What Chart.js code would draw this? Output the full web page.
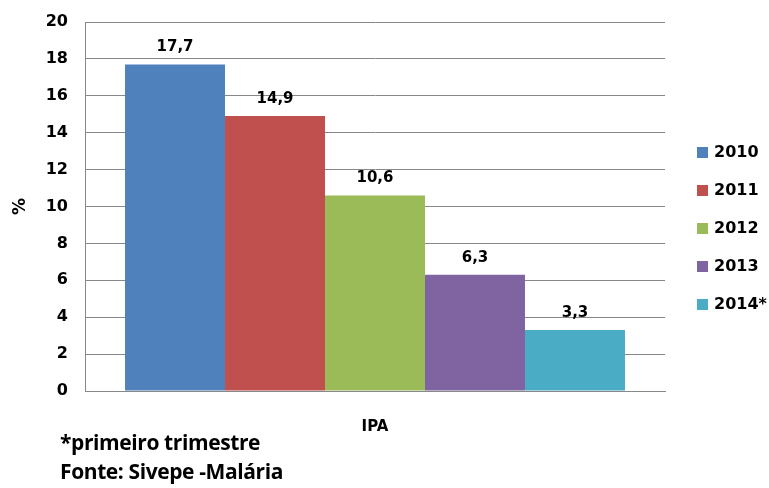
<!DOCTYPE html>
<html>
<head>
<meta charset="utf-8">
<script src="https://cdn.jsdelivr.net/npm/chart.js@4.4.0/dist/chart.umd.min.js"></script>
<style>
  html, body { margin: 0; padding: 0; background: #fff; }
  #wrap { position: relative; width: 769px; height: 488px; }
  #nota {
    position: absolute; left: 60px; top: 428px;
    font-family: "Open Sans", sans-serif; font-weight: bold;
    font-size: 21px; line-height: 29px; color: #000; letter-spacing: -0.4px;
  }
</style>
</head>
<body>
<div id="wrap">
  <canvas id="grafico" width="769" height="488"></canvas>
  <div id="nota">*primeiro trimestre<br>Fonte: Sivepe -Malária</div>
</div>
<script>
// categoria unica e series por ano
let categorias = ["IPA"];
let anos = ["2010", "2011", "2012", "2013", "2014*"];
let valores = [17.7, 14.9, 10.6, 6.3, 3.3];
let cores = ["#4F81BD", "#C0504D", "#9BBB59", "#8064A2", "#4BACC6"];
let ticksY = [0, 2, 4, 6, 8, 10, 12, 14, 16, 18, 20];

let fonte = "'DejaVu Sans', sans-serif";

let datasets = anos.map(function (ano, i) {
    return {
        label: ano,
        data: [valores[i]],
        backgroundColor: cores[i],
        borderWidth: 0,
        categoryPercentage: 0.862,
        barPercentage: 1.0,
    };
});

// escreve o valor em cima de cada barra (virgula decimal)
let rotulos = {
    id: "rotulos",
    afterDatasetsDraw(chart) {
        let ctx = chart.ctx;
        ctx.save();
        ctx.font = "bold 15px " + fonte;
        ctx.fillStyle = "#000";
        ctx.textAlign = "center";
        ctx.textBaseline = "alphabetic";
        chart.data.datasets.forEach(function (ds, i) {
            let meta = chart.getDatasetMeta(i);
            meta.data.forEach(function (bar, j) {
                let txt = ds.data[j].toFixed(1).replace(".", ",");
                ctx.fillText(txt, bar.x, bar.y - 13);
            });
        });
        ctx.restore();
    },
};

// legenda a direita, um quadrado e o ano por linha
let legenda = {
    id: "legenda",
    afterDraw(chart) {
        let ctx = chart.ctx;
        let x = chart.chartArea.right + 32;
        let y0 = 153;
        ctx.save();
        ctx.font = "bold 16px " + fonte;
        ctx.textAlign = "left";
        ctx.textBaseline = "middle";
        chart.data.datasets.forEach(function (ds, i) {
            let y = y0 + i * 38;
            ctx.fillStyle = ds.backgroundColor;
            ctx.fillRect(x, y - 6, 11, 11);
            ctx.fillStyle = "#000";
            ctx.fillText(ds.label, x + 17, y);
        });
        ctx.restore();
    },
};

let grafico = new Chart(document.getElementById("grafico"), {
    type: "bar",
    data: { labels: categorias, datasets: datasets },
    plugins: [rotulos, legenda],
    options: {
        responsive: false,
        animation: false,
        layout: { padding: { top: 22, bottom: 53, left: 0, right: 104 } },
        plugins: {
            tooltip: { enabled: false },
            legend: { display: false },
        },
        scales: {
            x: {
                afterFit(scale) { scale.height = 44; },
                grid: { display: false, drawTicks: false },
                border: { color: "#888888" },
                ticks: { color: "#000", padding: 27, font: { family: fonte, weight: "bold", size: 15 } },
            },
            y: {
                min: 0,
                max: 20,
                afterFit(scale) {
                    scale.width = 85;
                    scale.paddingTop = 0;
                    scale.paddingBottom = 0;
                },
                afterBuildTicks(axis) {
                    axis.ticks = ticksY.map(function (v) { return { value: v }; });
                },
                grid: { color: "#888888", drawTicks: false },
                border: { color: "#888888" },
                ticks: { color: "#000", padding: 17, font: { family: fonte, weight: "bold", size: 16 } },
                title: {
                    display: true,
                    text: "%",
                    color: "#000",
                    padding: 10,
                    font: { family: fonte, weight: "bold", size: 17 },
                },
            },
        },
    },
});
</script>
</body>
</html>
